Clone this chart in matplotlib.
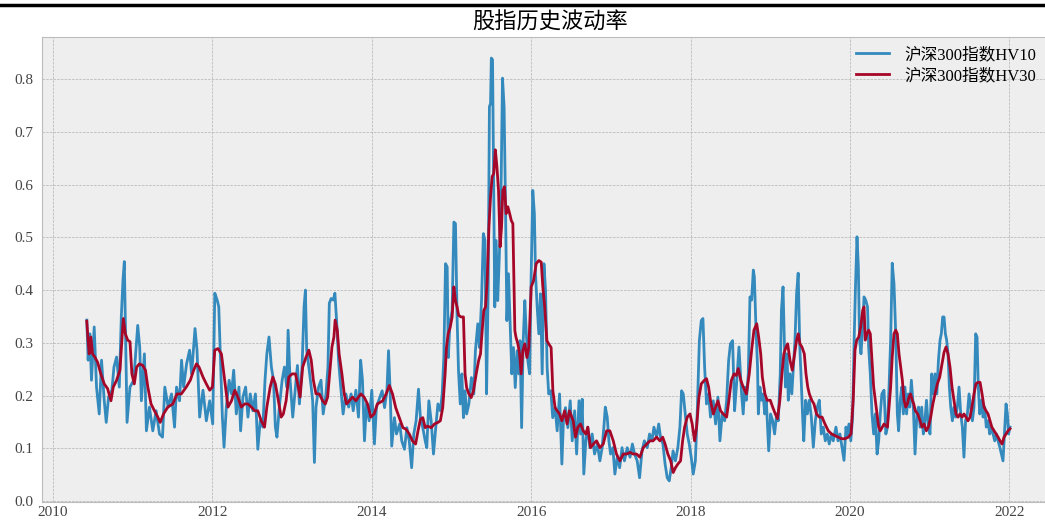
import matplotlib
matplotlib.use('Agg')
import matplotlib.pyplot as plt
from matplotlib.lines import Line2D

plt.style.use('bmh')
plt.rcParams['font.family'] = ['Liberation Serif', 'Noto Sans CJK SC']
plt.rcParams['axes.unicode_minus'] = False

title = '股指历史波动率'
labels = ['沪深300指数HV10', '沪深300指数HV30']
year_ticks = [2010, 2012, 2014, 2016, 2018, 2020, 2022]
vol_ticks = [0.0, 0.1, 0.2, 0.3, 0.4, 0.5, 0.6, 0.7, 0.8]

# (decimal year, HV10)
hv10_pts = [
    (2010.424, 0.343), (2010.441, 0.267), (2010.462, 0.317), (2010.483, 0.229), (2010.517, 0.330),
    (2010.546, 0.216), (2010.580, 0.165), (2010.609, 0.267), (2010.643, 0.190), (2010.668, 0.149),
    (2010.697, 0.197), (2010.739, 0.210), (2010.765, 0.254), (2010.798, 0.273), (2010.832, 0.216),
    (2010.857, 0.349), (2010.878, 0.419), (2010.895, 0.454), (2010.912, 0.305), (2010.929, 0.149),
    (2010.966, 0.216), (2011.013, 0.229), (2011.063, 0.333), (2011.088, 0.292), (2011.109, 0.190),
    (2011.147, 0.279), (2011.172, 0.133), (2011.210, 0.178), (2011.252, 0.133), (2011.294, 0.171),
    (2011.336, 0.127), (2011.374, 0.121), (2011.403, 0.216), (2011.445, 0.178), (2011.487, 0.203),
    (2011.525, 0.140), (2011.550, 0.216), (2011.588, 0.190), (2011.613, 0.267), (2011.639, 0.216),
    (2011.676, 0.260), (2011.714, 0.286), (2011.739, 0.241), (2011.782, 0.327), (2011.807, 0.286),
    (2011.840, 0.159), (2011.882, 0.210), (2011.924, 0.152), (2011.966, 0.190), (2012.004, 0.146),
    (2012.030, 0.394), (2012.060, 0.381), (2012.080, 0.368), (2012.100, 0.273), (2012.125, 0.159),
    (2012.146, 0.102), (2012.175, 0.178), (2012.210, 0.229), (2012.240, 0.203), (2012.267, 0.248),
    (2012.300, 0.165), (2012.333, 0.216), (2012.354, 0.133), (2012.383, 0.197), (2012.417, 0.216),
    (2012.446, 0.159), (2012.475, 0.203), (2012.508, 0.171), (2012.540, 0.203), (2012.570, 0.098),
    (2012.600, 0.152), (2012.633, 0.140), (2012.660, 0.229), (2012.683, 0.279), (2012.710, 0.311),
    (2012.740, 0.254), (2012.767, 0.229), (2012.790, 0.140), (2012.810, 0.121), (2012.840, 0.178),
    (2012.875, 0.229), (2012.904, 0.254), (2012.933, 0.216), (2012.950, 0.324), (2012.975, 0.229),
    (2013.008, 0.159), (2013.042, 0.216), (2013.067, 0.257), (2013.092, 0.184), (2013.125, 0.254),
    (2013.150, 0.368), (2013.167, 0.400), (2013.183, 0.286), (2013.210, 0.254), (2013.240, 0.216),
    (2013.258, 0.190), (2013.280, 0.073), (2013.300, 0.178), (2013.333, 0.216), (2013.363, 0.229),
    (2013.390, 0.165), (2013.425, 0.203), (2013.450, 0.254), (2013.467, 0.375), (2013.490, 0.384),
    (2013.517, 0.381), (2013.537, 0.394), (2013.558, 0.343), (2013.583, 0.267), (2013.610, 0.216),
    (2013.640, 0.165), (2013.675, 0.203), (2013.710, 0.178), (2013.740, 0.203), (2013.767, 0.171),
    (2013.800, 0.210), (2013.833, 0.159), (2013.860, 0.267), (2013.883, 0.229), (2013.908, 0.114),
    (2013.933, 0.184), (2013.967, 0.152), (2014.000, 0.210), (2014.033, 0.108), (2014.058, 0.178),
    (2014.130, 0.209), (2014.160, 0.177), (2014.190, 0.209), (2014.210, 0.285), (2014.230, 0.209),
    (2014.250, 0.104), (2014.284, 0.158), (2014.310, 0.127), (2014.350, 0.146), (2014.376, 0.114),
    (2014.410, 0.098), (2014.440, 0.139), (2014.470, 0.114), (2014.500, 0.063), (2014.527, 0.127),
    (2014.556, 0.152), (2014.586, 0.212), (2014.610, 0.158), (2014.640, 0.139), (2014.670, 0.114),
    (2014.690, 0.101), (2014.716, 0.190), (2014.745, 0.152), (2014.774, 0.089), (2014.810, 0.152),
    (2014.830, 0.184), (2014.860, 0.171), (2014.883, 0.203), (2014.904, 0.272), (2014.925, 0.450),
    (2014.946, 0.444), (2014.960, 0.272), (2014.980, 0.336), (2015.008, 0.361), (2015.030, 0.529),
    (2015.050, 0.526), (2015.070, 0.349), (2015.088, 0.247), (2015.110, 0.184), (2015.130, 0.241),
    (2015.150, 0.158), (2015.170, 0.209), (2015.190, 0.165), (2015.218, 0.184), (2015.250, 0.234),
    (2015.280, 0.203), (2015.300, 0.285), (2015.330, 0.336), (2015.350, 0.291), (2015.377, 0.380),
    (2015.400, 0.507), (2015.420, 0.494), (2015.440, 0.203), (2015.460, 0.399), (2015.476, 0.748),
    (2015.490, 0.754), (2015.500, 0.840), (2015.515, 0.837), (2015.530, 0.596), (2015.543, 0.368),
    (2015.560, 0.494), (2015.580, 0.380), (2015.600, 0.463), (2015.620, 0.570), (2015.640, 0.802),
    (2015.660, 0.748), (2015.678, 0.558), (2015.695, 0.342), (2015.715, 0.431), (2015.736, 0.336),
    (2015.757, 0.241), (2015.778, 0.291), (2015.800, 0.215), (2015.824, 0.285), (2015.845, 0.241),
    (2015.860, 0.304), (2015.880, 0.139), (2015.900, 0.304), (2015.920, 0.380), (2015.937, 0.323),
    (2015.958, 0.266), (2015.980, 0.241), (2016.000, 0.431), (2016.020, 0.589), (2016.040, 0.545),
    (2016.054, 0.431), (2016.075, 0.368), (2016.096, 0.317), (2016.117, 0.393), (2016.138, 0.241),
    (2016.160, 0.450), (2016.180, 0.399), (2016.200, 0.253), (2016.220, 0.203), (2016.247, 0.209),
    (2016.270, 0.158), (2016.300, 0.177), (2016.326, 0.133), (2016.356, 0.203), (2016.385, 0.070),
    (2016.406, 0.158), (2016.430, 0.177), (2016.460, 0.139), (2016.490, 0.190), (2016.515, 0.114),
    (2016.545, 0.171), (2016.570, 0.089), (2016.600, 0.190), (2016.620, 0.127), (2016.640, 0.193),
    (2016.660, 0.051), (2016.686, 0.114), (2016.710, 0.140), (2016.736, 0.101), (2016.765, 0.127),
    (2016.795, 0.089), (2016.830, 0.108), (2016.862, 0.076), (2016.890, 0.101), (2016.912, 0.140),
    (2016.930, 0.178), (2016.954, 0.159), (2016.975, 0.114), (2016.996, 0.089), (2017.025, 0.101),
    (2017.050, 0.051), (2017.080, 0.083), (2017.110, 0.063), (2017.140, 0.101), (2017.170, 0.076),
    (2017.205, 0.101), (2017.240, 0.083), (2017.270, 0.108), (2017.297, 0.089), (2017.330, 0.076),
    (2017.360, 0.044), (2017.390, 0.095), (2017.420, 0.114), (2017.456, 0.101), (2017.485, 0.127),
    (2017.515, 0.114), (2017.540, 0.140), (2017.573, 0.121), (2017.600, 0.146), (2017.623, 0.121),
    (2017.653, 0.108), (2017.680, 0.070), (2017.707, 0.044), (2017.732, 0.038), (2017.757, 0.063),
    (2017.780, 0.095), (2017.810, 0.076), (2017.840, 0.101), (2017.866, 0.140), (2017.887, 0.209),
    (2017.908, 0.203), (2017.933, 0.165), (2017.958, 0.127), (2017.983, 0.108), (2018.008, 0.083),
    (2018.033, 0.051), (2018.060, 0.076), (2018.084, 0.171), (2018.110, 0.304), (2018.134, 0.342),
    (2018.155, 0.346), (2018.176, 0.254), (2018.200, 0.184), (2018.226, 0.203), (2018.250, 0.159),
    (2018.285, 0.190), (2018.314, 0.146), (2018.343, 0.197), (2018.368, 0.114), (2018.397, 0.165),
    (2018.427, 0.152), (2018.452, 0.190), (2018.477, 0.266), (2018.500, 0.298), (2018.527, 0.304),
    (2018.552, 0.171), (2018.577, 0.222), (2018.607, 0.292), (2018.640, 0.203), (2018.660, 0.165),
    (2018.680, 0.216), (2018.700, 0.191), (2018.724, 0.241), (2018.745, 0.387), (2018.766, 0.381),
    (2018.787, 0.438), (2018.800, 0.425), (2018.820, 0.330), (2018.840, 0.254), (2018.850, 0.165),
    (2018.870, 0.216), (2018.890, 0.191), (2018.910, 0.203), (2018.930, 0.165), (2018.950, 0.191),
    (2018.980, 0.095), (2019.004, 0.165), (2019.030, 0.152), (2019.054, 0.127), (2019.080, 0.165),
    (2019.100, 0.152), (2019.125, 0.241), (2019.140, 0.362), (2019.160, 0.406), (2019.176, 0.305),
    (2019.190, 0.216), (2019.210, 0.279), (2019.226, 0.191), (2019.247, 0.241), (2019.270, 0.203),
    (2019.290, 0.254), (2019.310, 0.305), (2019.330, 0.393), (2019.350, 0.432), (2019.370, 0.292),
    (2019.385, 0.241), (2019.406, 0.159), (2019.420, 0.114), (2019.444, 0.191), (2019.465, 0.165),
    (2019.490, 0.191), (2019.515, 0.159), (2019.540, 0.102), (2019.565, 0.152), (2019.590, 0.178),
    (2019.615, 0.191), (2019.640, 0.127), (2019.665, 0.140), (2019.690, 0.114), (2019.715, 0.127),
    (2019.740, 0.108), (2019.766, 0.127), (2019.790, 0.114), (2019.824, 0.140), (2019.850, 0.114),
    (2019.874, 0.127), (2019.900, 0.102), (2019.925, 0.077), (2019.950, 0.140), (2019.966, 0.121),
    (2019.987, 0.146), (2020.010, 0.114), (2020.033, 0.159), (2020.054, 0.317), (2020.070, 0.412),
    (2020.088, 0.501), (2020.105, 0.444), (2020.120, 0.305), (2020.138, 0.279), (2020.160, 0.330),
    (2020.176, 0.387), (2020.197, 0.381), (2020.220, 0.368), (2020.234, 0.292), (2020.255, 0.241),
    (2020.276, 0.165), (2020.297, 0.127), (2020.318, 0.165), (2020.340, 0.089), (2020.360, 0.114),
    (2020.380, 0.165), (2020.400, 0.203), (2020.427, 0.210), (2020.450, 0.127), (2020.470, 0.140),
    (2020.490, 0.216), (2020.510, 0.305), (2020.530, 0.451), (2020.552, 0.412), (2020.574, 0.317),
    (2020.594, 0.165), (2020.610, 0.133), (2020.630, 0.191), (2020.650, 0.216), (2020.670, 0.165),
    (2020.690, 0.216), (2020.710, 0.165), (2020.730, 0.203), (2020.750, 0.178), (2020.770, 0.229),
    (2020.795, 0.178), (2020.816, 0.089), (2020.840, 0.165), (2020.860, 0.178), (2020.880, 0.140),
    (2020.900, 0.178), (2020.920, 0.127), (2020.940, 0.152), (2020.960, 0.191), (2020.983, 0.140),
    (2021.004, 0.127), (2021.025, 0.241), (2021.046, 0.203), (2021.067, 0.241), (2021.090, 0.203),
    (2021.110, 0.267), (2021.130, 0.305), (2021.146, 0.317), (2021.163, 0.349), (2021.180, 0.349),
    (2021.197, 0.317), (2021.213, 0.305), (2021.230, 0.279), (2021.247, 0.216), (2021.264, 0.178),
    (2021.285, 0.152), (2021.305, 0.178), (2021.326, 0.159), (2021.347, 0.178), (2021.368, 0.216),
    (2021.390, 0.165), (2021.410, 0.140), (2021.430, 0.083), (2021.450, 0.152), (2021.473, 0.165),
    (2021.494, 0.203), (2021.515, 0.178), (2021.536, 0.152), (2021.556, 0.178), (2021.577, 0.317),
    (2021.594, 0.311), (2021.610, 0.216), (2021.628, 0.165), (2021.650, 0.191), (2021.670, 0.159),
    (2021.690, 0.178), (2021.710, 0.140), (2021.732, 0.152), (2021.753, 0.127), (2021.774, 0.140),
    (2021.795, 0.127), (2021.816, 0.114), (2021.837, 0.127), (2021.858, 0.114), (2021.880, 0.102),
    (2021.900, 0.089), (2021.920, 0.076), (2021.940, 0.133), (2021.958, 0.184), (2021.975, 0.165),
    (2021.990, 0.127), (2022.008, 0.140),
]

# (decimal year, HV30)
hv30_pts = [
    (2010.424, 0.341), (2010.440, 0.305), (2010.454, 0.279), (2010.475, 0.311), (2010.496, 0.279),
    (2010.525, 0.273), (2010.560, 0.263), (2010.600, 0.241), (2010.643, 0.222), (2010.685, 0.213),
    (2010.727, 0.190), (2010.756, 0.216), (2010.798, 0.229), (2010.840, 0.248), (2010.865, 0.305),
    (2010.882, 0.346), (2010.908, 0.317), (2010.937, 0.305), (2010.966, 0.302), (2010.990, 0.241),
    (2011.020, 0.222), (2011.050, 0.254), (2011.084, 0.260), (2011.126, 0.257), (2011.160, 0.248),
    (2011.190, 0.216), (2011.230, 0.184), (2011.273, 0.171), (2011.315, 0.159), (2011.345, 0.149),
    (2011.387, 0.165), (2011.440, 0.178), (2011.504, 0.184), (2011.555, 0.203), (2011.610, 0.203),
    (2011.672, 0.216), (2011.723, 0.229), (2011.765, 0.248), (2011.800, 0.260), (2011.832, 0.254),
    (2011.882, 0.235), (2011.924, 0.222), (2011.966, 0.210), (2012.000, 0.216), (2012.030, 0.286),
    (2012.070, 0.289), (2012.113, 0.279), (2012.154, 0.229), (2012.196, 0.178), (2012.240, 0.190),
    (2012.280, 0.210), (2012.320, 0.197), (2012.363, 0.178), (2012.404, 0.184), (2012.446, 0.184),
    (2012.490, 0.178), (2012.530, 0.171), (2012.570, 0.171), (2012.613, 0.152), (2012.654, 0.140),
    (2012.683, 0.178), (2012.725, 0.216), (2012.758, 0.235), (2012.790, 0.222), (2012.820, 0.197),
    (2012.863, 0.159), (2012.890, 0.165), (2012.925, 0.190), (2012.958, 0.235), (2013.000, 0.241),
    (2013.042, 0.241), (2013.070, 0.222), (2013.100, 0.197), (2013.133, 0.254), (2013.175, 0.273),
    (2013.210, 0.286), (2013.240, 0.267), (2013.267, 0.229), (2013.300, 0.203), (2013.342, 0.203),
    (2013.383, 0.190), (2013.417, 0.184), (2013.446, 0.197), (2013.475, 0.248), (2013.500, 0.292),
    (2013.525, 0.311), (2013.540, 0.343), (2013.567, 0.324), (2013.590, 0.279), (2013.625, 0.241),
    (2013.654, 0.203), (2013.683, 0.184), (2013.717, 0.190), (2013.758, 0.197), (2013.800, 0.190),
    (2013.833, 0.197), (2013.863, 0.203), (2013.904, 0.197), (2013.946, 0.184), (2013.988, 0.159),
    (2014.030, 0.165), (2014.070, 0.184), (2014.138, 0.190), (2014.180, 0.203), (2014.220, 0.219),
    (2014.260, 0.203), (2014.300, 0.177), (2014.345, 0.158), (2014.390, 0.139), (2014.430, 0.136),
    (2014.470, 0.127), (2014.510, 0.114), (2014.550, 0.108), (2014.580, 0.133), (2014.610, 0.155),
    (2014.640, 0.158), (2014.670, 0.139), (2014.700, 0.142), (2014.745, 0.139), (2014.787, 0.146),
    (2014.830, 0.149), (2014.860, 0.152), (2014.890, 0.177), (2014.920, 0.241), (2014.937, 0.291),
    (2014.958, 0.317), (2014.983, 0.329), (2015.008, 0.349), (2015.030, 0.406), (2015.050, 0.380),
    (2015.070, 0.368), (2015.090, 0.352), (2015.120, 0.349), (2015.150, 0.349), (2015.170, 0.241),
    (2015.190, 0.215), (2015.218, 0.203), (2015.247, 0.196), (2015.276, 0.209), (2015.310, 0.241),
    (2015.340, 0.266), (2015.364, 0.279), (2015.385, 0.323), (2015.405, 0.361), (2015.427, 0.368),
    (2015.448, 0.418), (2015.470, 0.520), (2015.490, 0.577), (2015.510, 0.615), (2015.530, 0.621),
    (2015.550, 0.666), (2015.570, 0.634), (2015.590, 0.589), (2015.610, 0.482), (2015.628, 0.520),
    (2015.644, 0.589), (2015.665, 0.596), (2015.686, 0.545), (2015.707, 0.558), (2015.730, 0.545),
    (2015.750, 0.532), (2015.770, 0.526), (2015.782, 0.431), (2015.795, 0.323), (2015.810, 0.310),
    (2015.833, 0.298), (2015.854, 0.279), (2015.874, 0.241), (2015.895, 0.285), (2015.920, 0.298),
    (2015.946, 0.272), (2015.970, 0.291), (2016.000, 0.406), (2016.030, 0.418), (2016.063, 0.450),
    (2016.096, 0.456), (2016.126, 0.453), (2016.146, 0.406), (2016.170, 0.368), (2016.197, 0.304),
    (2016.220, 0.298), (2016.250, 0.291), (2016.272, 0.209), (2016.300, 0.177), (2016.326, 0.171),
    (2016.356, 0.165), (2016.385, 0.152), (2016.420, 0.171), (2016.450, 0.146), (2016.480, 0.171),
    (2016.527, 0.152), (2016.556, 0.121), (2016.586, 0.140), (2016.620, 0.146), (2016.653, 0.133),
    (2016.686, 0.127), (2016.710, 0.140), (2016.745, 0.101), (2016.780, 0.108), (2016.820, 0.114),
    (2016.862, 0.101), (2016.904, 0.108), (2016.946, 0.133), (2016.987, 0.133), (2017.030, 0.114),
    (2017.070, 0.089), (2017.113, 0.076), (2017.155, 0.089), (2017.197, 0.089), (2017.240, 0.092),
    (2017.280, 0.089), (2017.322, 0.089), (2017.364, 0.083), (2017.406, 0.101), (2017.450, 0.108),
    (2017.490, 0.114), (2017.530, 0.114), (2017.573, 0.121), (2017.615, 0.114), (2017.650, 0.121),
    (2017.680, 0.108), (2017.715, 0.089), (2017.750, 0.076), (2017.782, 0.054), (2017.810, 0.063),
    (2017.840, 0.070), (2017.874, 0.076), (2017.900, 0.114), (2017.925, 0.140), (2017.958, 0.159),
    (2017.992, 0.165), (2018.020, 0.146), (2018.050, 0.114), (2018.075, 0.140), (2018.105, 0.197),
    (2018.134, 0.222), (2018.167, 0.228), (2018.200, 0.232), (2018.226, 0.216), (2018.250, 0.190),
    (2018.285, 0.165), (2018.314, 0.178), (2018.343, 0.190), (2018.376, 0.171), (2018.410, 0.165),
    (2018.452, 0.159), (2018.480, 0.190), (2018.510, 0.228), (2018.544, 0.241), (2018.573, 0.238),
    (2018.598, 0.251), (2018.630, 0.229), (2018.660, 0.216), (2018.700, 0.203), (2018.736, 0.241),
    (2018.766, 0.286), (2018.795, 0.324), (2018.830, 0.336), (2018.854, 0.311), (2018.880, 0.279),
    (2018.900, 0.235), (2018.933, 0.203), (2018.960, 0.191), (2019.000, 0.191), (2019.030, 0.178),
    (2019.063, 0.165), (2019.090, 0.156), (2019.120, 0.191), (2019.146, 0.241), (2019.170, 0.279),
    (2019.197, 0.292), (2019.218, 0.298), (2019.247, 0.267), (2019.276, 0.248), (2019.300, 0.273),
    (2019.330, 0.305), (2019.350, 0.317), (2019.372, 0.298), (2019.397, 0.292), (2019.427, 0.279),
    (2019.448, 0.241), (2019.470, 0.216), (2019.490, 0.203), (2019.520, 0.191), (2019.548, 0.184),
    (2019.580, 0.165), (2019.615, 0.159), (2019.650, 0.159), (2019.686, 0.146), (2019.728, 0.133),
    (2019.770, 0.127), (2019.810, 0.124), (2019.854, 0.121), (2019.895, 0.118), (2019.937, 0.118),
    (2019.980, 0.121), (2020.013, 0.127), (2020.040, 0.191), (2020.063, 0.286), (2020.084, 0.305),
    (2020.110, 0.311), (2020.134, 0.330), (2020.160, 0.362), (2020.176, 0.368), (2020.192, 0.305),
    (2020.213, 0.317), (2020.234, 0.324), (2020.255, 0.317), (2020.276, 0.267), (2020.297, 0.216),
    (2020.318, 0.191), (2020.340, 0.165), (2020.360, 0.140), (2020.380, 0.133), (2020.427, 0.146),
    (2020.470, 0.140), (2020.490, 0.178), (2020.510, 0.216), (2020.530, 0.273), (2020.552, 0.317),
    (2020.574, 0.324), (2020.594, 0.317), (2020.615, 0.279), (2020.636, 0.254), (2020.657, 0.229),
    (2020.678, 0.191), (2020.700, 0.178), (2020.720, 0.184), (2020.740, 0.197), (2020.760, 0.203),
    (2020.782, 0.191), (2020.800, 0.184), (2020.820, 0.171), (2020.850, 0.165), (2020.880, 0.152),
    (2020.904, 0.140), (2020.930, 0.146), (2020.958, 0.133), (2020.983, 0.140), (2021.013, 0.159),
    (2021.040, 0.184), (2021.067, 0.203), (2021.096, 0.222), (2021.126, 0.235), (2021.155, 0.260),
    (2021.180, 0.282), (2021.205, 0.292), (2021.230, 0.279), (2021.255, 0.254), (2021.280, 0.216),
    (2021.305, 0.191), (2021.330, 0.165), (2021.356, 0.159), (2021.380, 0.165), (2021.406, 0.159),
    (2021.430, 0.165), (2021.456, 0.159), (2021.480, 0.152), (2021.506, 0.159), (2021.530, 0.178),
    (2021.556, 0.203), (2021.580, 0.222), (2021.607, 0.225), (2021.632, 0.225), (2021.657, 0.203),
    (2021.682, 0.178), (2021.707, 0.171), (2021.732, 0.165), (2021.757, 0.152), (2021.780, 0.140),
    (2021.808, 0.133), (2021.833, 0.127), (2021.858, 0.121), (2021.883, 0.114), (2021.908, 0.108),
    (2021.933, 0.121), (2021.958, 0.127), (2021.983, 0.133), (2022.008, 0.137),
]

t10 = [p[0] for p in hv10_pts]
hv10 = [p[1] for p in hv10_pts]
t30 = [p[0] for p in hv30_pts]
hv30 = [p[1] for p in hv30_pts]

W, H = 1045, 520
fig = plt.figure(figsize=(W / 100, H / 100), dpi=100)
# axes runs past the right edge, as in the cropped screenshot
ax = fig.add_axes([42 / W, 1 - 502 / H, (1058 - 42) / W, (502 - 37) / H])

ax.plot(t10, hv10, color='#348ABD', lw=2, label=labels[0])
ax.plot(t30, hv30, color='#A60628', lw=2, label=labels[1])

ax.set_xlim(2009.862, 2022.61)
ax.set_ylim(-0.002, 0.88)
ax.set_xticks(year_ticks)
ax.set_xticklabels([str(y) for y in year_ticks])
ax.set_yticks(vol_ticks)
ax.set_yticklabels(['%.1f' % v for v in vol_ticks])
ax.tick_params(length=0, labelsize=11, labelcolor='#444444')
ax.tick_params(axis='x', pad=3)
ax.tick_params(axis='y', pad=6)

ax.set_title(title, fontsize=16, family=['Noto Sans CJK SC', 'DejaVu Sans'], pad=6)
leg = ax.legend(loc='upper right', bbox_to_anchor=(1 - 12 / 1016, 1.0),
                fontsize=12, labelspacing=0.3, handletextpad=0.9,
                borderaxespad=0.2, frameon=False)

# black bar along the top of the screenshot
fig.add_artist(Line2D([0, 1], [1 - 5 / H, 1 - 5 / H], transform=fig.transFigure,
                      color='black', lw=2.5))

fig.savefig('out.png', dpi=100)
